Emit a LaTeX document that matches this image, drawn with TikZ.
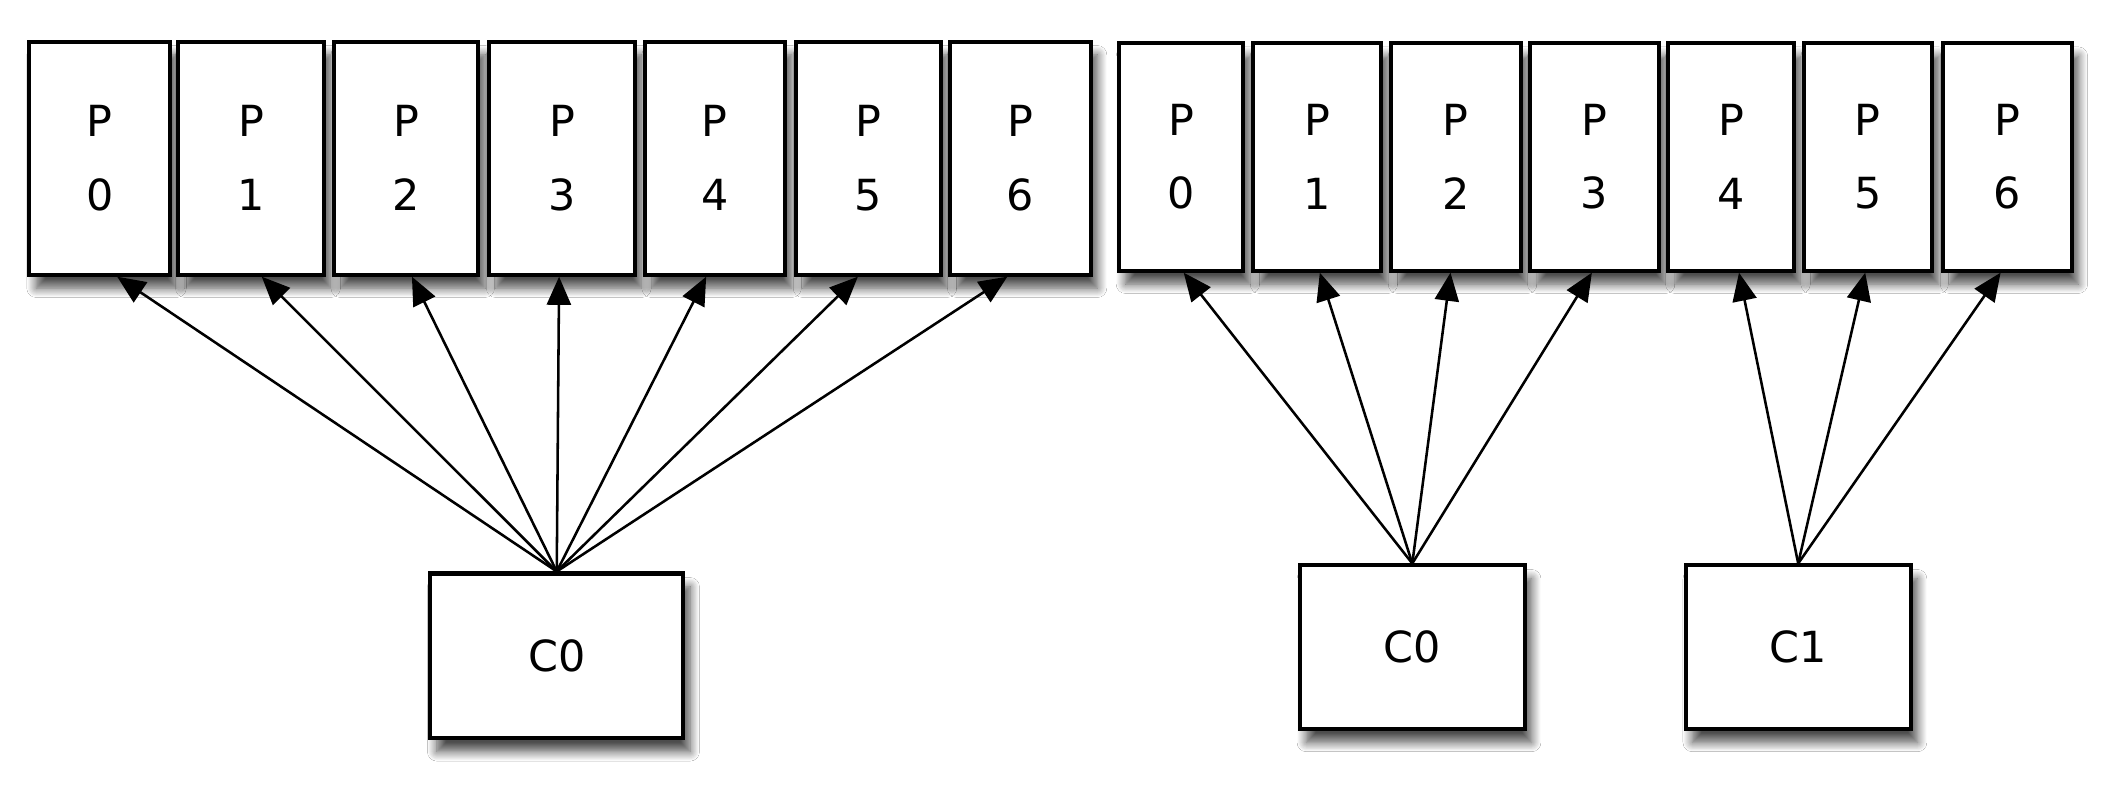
\documentclass[tikz,border=0pt]{standalone}
\usepackage{fontspec}
\setmainfont{DejaVu Sans}
\usetikzlibrary{arrows.meta,shadows.blur,calc}
\begin{document}
\begin{tikzpicture}[x=1pt,y=-1pt,
  shd/.style={blur shadow={shadow xshift=5pt,shadow yshift=-10pt,shadow blur steps=10,shadow opacity=70,shadow blur radius=7pt}},
  pbox/.style={draw=black,line width=3pt,fill=white,inner sep=0pt,align=center,
    font=\fontsize{32}{55}\selectfont,minimum height=#1,shd},
  cbox/.style={draw=black,line width=3pt,fill=white,inner sep=0pt,
    font=\fontsize{32}{38}\selectfont,minimum width=#1,shd},
  conn/.style={line width=1.9pt,-{Triangle[length=21pt,width=18pt]}}]
\useasboundingbox[fill=white] (0,0) rectangle (1568,597);
% left group
\foreach \i/\cx/\w in {0/74.5/105,1/187.5/109,2/303/108,3/419.5/109,4/533.5/105,5/648/108,6/761.5/105}
  \node[pbox=174pt,minimum width=\w pt] (l\i) at (\cx,118) {P\\\i};
\node[cbox=189pt,minimum height=123pt] (lc0) at (415.5,489.5) {C0};
% right group
\foreach \i/\cx/\w in {0/881.5/93,1/983/96,2/1086.5/97,3/1190/96,4/1292/94,5/1394/96,6/1498/96}
  \node[pbox=170pt,minimum width=\w pt] (r\i) at (\cx,117) {P\\\i};
\node[cbox=168pt,minimum height=122pt] (rc0) at (1054,483) {C0};
\node[cbox=168pt,minimum height=122pt] (rc1) at (1342,483) {C1};
% connectors
\foreach \i/\f in {0/0.62,1/0.57,2/0.54,3/0.48,4/0.44,5/0.43,6/0.41}
  \draw[conn] (lc0.north) -- ($(l\i.south west)!\f!(l\i.south east)$);
\foreach \i/\f in {0/0.52,1/0.52,2/0.46,3/0.48}
  \draw[conn] (rc0.north) -- ($(r\i.south west)!\f!(r\i.south east)$);
\foreach \i/\f in {4/0.56,5/0.48,6/0.45}
  \draw[conn] (rc1.north) -- ($(r\i.south west)!\f!(r\i.south east)$);
\end{tikzpicture}
\end{document}
